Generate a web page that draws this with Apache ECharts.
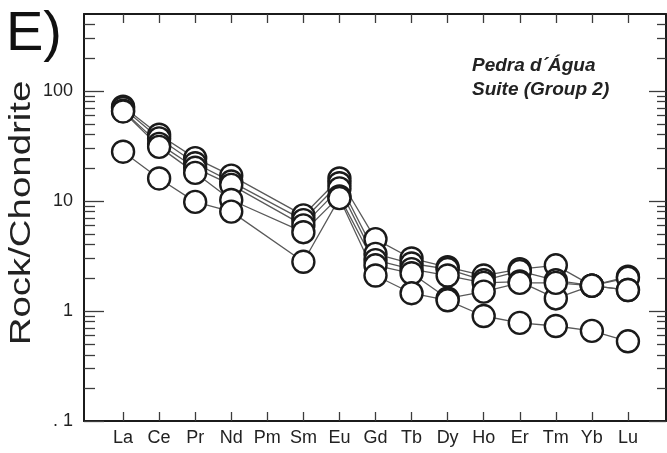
<!DOCTYPE html>
<html>
<head>
<meta charset="utf-8">
<script src="https://cdn.jsdelivr.net/npm/echarts@6/dist/echarts.min.js"></script>
<style>
  html, body { margin: 0; padding: 0; background: #fff; }
  #chart { width: 667px; height: 453px; }
</style>
</head>
<body>
<div id="chart"></div>
<script>
// Chondrite-normalised REE patterns, Pedra d'Água Suite (Group 2)
const elements = ['La', 'Ce', 'Pr', 'Nd', 'Pm', 'Sm', 'Eu', 'Gd', 'Tb', 'Dy', 'Ho', 'Er', 'Tm', 'Yb', 'Lu'];

// Pm is not analysed (null): the patterns run straight from Nd to Sm
const sample1 = [72, 40, 24.5, 17, null, 7.4, 16, 4.5, 3.0, 2.5, 2.1, 2.4, 2.6, 1.7, 2.05];
const sample2 = [70, 37, 22, 15, null, 6.7, 14.5, 3.3, 2.7, 2.4, 1.9, 2.3, 1.9, 1.7, 2.0];
const sample3 = [66, 33, 20, 14, null, 6.0, 13, 2.9, 2.4, 2.1, 1.8, 1.85, 1.3, 1.7, 1.55];
const sample4 = [65, 31, 18, 10.2, null, 5.2, 11, 2.6, 2.2, 1.3, 1.5, 1.8, 1.8, 1.7, 1.55];
const sample5 = [28, 16, 9.8, 8.0, null, 2.8, 10.6, 2.1, 1.45, 1.25, 0.9, 0.78, 0.73, 0.66, 0.53];

const samples = [sample1, sample2, sample3, sample4, sample5];

// Log axis tick marks
const majorTicks = [0.1, 1, 10, 100];
const majorTickLabels = ['. 1', '1', '10', '100'];
const minorTicks = [0.2, 0.3, 0.4, 0.5, 0.6, 0.7, 0.8, 0.9,
                    2, 3, 4, 5, 6, 7, 8, 9,
                    20, 30, 40, 50, 60, 70, 80, 90,
                    200, 300, 400];

const yMin = 0.1, yMax = 500;

const FONT = '"Liberation Sans", Arial, Helvetica, sans-serif';
const FRAME = '#1b1b1b';
const TICK = '#3c3c3c';
const TEXT = '#222';

// one empty slot each side of the element row
const slots = [''].concat(elements, ['']);
const padded = arr => ['-'].concat(arr.map(v => (v == null ? '-' : v)), ['-']);
const innerSlot = idx => idx > 0 && idx < slots.length - 1;

function majorLabel(v) {
  const i = majorTicks.findIndex(t => Math.abs(Math.log10(t) - Math.log10(v)) < 1e-6);
  return i >= 0 ? majorTickLabels[i] : '';
}

const frameX = pos => ({
  gridIndex: 0, type: 'value', position: pos, min: 0, max: 1,
  axisLine: { show: true, onZero: false, lineStyle: { color: FRAME, width: 2 } },
  axisTick: { show: false }, axisLabel: { show: false }, splitLine: { show: false }
});

const elementX = (pos, labels) => ({
  gridIndex: 1, type: 'category', position: pos, data: slots, boundaryGap: false,
  axisLine: { show: false, onZero: false },
  axisTick: { show: true, inside: true, length: 9, interval: innerSlot,
              lineStyle: { color: TICK, width: 1.3 } },
  axisLabel: labels
    ? { show: true, interval: 0, margin: 8, fontSize: 18, color: TEXT, fontFamily: FONT }
    : { show: false },
  splitLine: { show: false }
});

const logY = (pos, ticks, len, opts) => Object.assign({
  gridIndex: 0, type: 'log', logBase: 10, min: yMin, max: yMax, position: pos,
  axisLine: { show: false, onZero: false },
  axisTick: { show: true, inside: true, length: len, customValues: ticks,
              lineStyle: { color: TICK, width: 1.3 } },
  axisLabel: { show: false },
  splitLine: { show: false }, minorTick: { show: false }
}, opts || {});

const option = {
  animation: false,
  backgroundColor: '#fff',
  grid: [
    { left: 84, right: 1, top: 14, bottom: 32 },
    { left: 87, right: 0, top: 14, bottom: 32 }
  ],
  xAxis: [
    frameX('bottom'),
    frameX('top'),
    elementX('bottom', true),
    elementX('top', false)
  ],
  yAxis: [
    logY('left', majorTicks, 20, {
      axisLine: { show: true, onZero: false, lineStyle: { color: FRAME, width: 2 } },
      axisLabel: { show: true, customValues: majorTicks, formatter: majorLabel,
                   margin: 11, fontSize: 18, color: TEXT, fontFamily: FONT }
    }),
    logY('left', minorTicks, 11),
    logY('right', majorTicks, 17, {
      axisLine: { show: true, onZero: false, lineStyle: { color: FRAME, width: 2 } }
    }),
    logY('right', minorTicks, 9),
    { gridIndex: 1, type: 'log', logBase: 10, min: yMin, max: yMax, show: false }
  ],
  series: [],
  graphic: [
    { type: 'text', x: 6, y: 35, silent: true,
      style: { text: 'E)', font: '56px ' + FONT, fill: '#111', textAlign: 'left', textVerticalAlign: 'middle' } },
    // axis title, drawn in a widened face
    { type: 'text', x: 22, y: 213, rotation: Math.PI / 2, scaleX: 1.28, silent: true,
      style: { text: 'Rock/Chondrite', font: '30px ' + FONT, fill: TEXT, textAlign: 'center', textVerticalAlign: 'middle' } },
    { type: 'text', x: 472, y: 66, silent: true,
      style: { text: 'Pedra d\u00B4\u00C1gua', font: 'italic bold 19px ' + FONT, fill: TEXT, textAlign: 'left', textVerticalAlign: 'middle' } },
    { type: 'text', x: 472, y: 90, silent: true,
      style: { text: 'Suite (Group 2)', font: 'italic bold 19px ' + FONT, fill: TEXT, textAlign: 'left', textVerticalAlign: 'middle' } }
  ]
};

// connecting lines first, circles on top of every line
samples.forEach(s => {
  option.series.push({
    type: 'line', xAxisIndex: 2, yAxisIndex: 4, data: padded(s),
    connectNulls: true, symbol: 'none', z: 2, silent: true,
    lineStyle: { color: '#5a5a5a', width: 1.3 }
  });
});
samples.forEach(s => {
  option.series.push({
    type: 'scatter', xAxisIndex: 2, yAxisIndex: 4, data: padded(s),
    symbol: 'circle', symbolSize: 22, z: 3, silent: true,
    itemStyle: { color: '#fff', borderColor: '#1a1a1a', borderWidth: 2.4, opacity: 1 }
  });
});

const chart = echarts.init(document.getElementById('chart'), null, { renderer: 'canvas' });
chart.setOption(option);
</script>
</body>
</html>
